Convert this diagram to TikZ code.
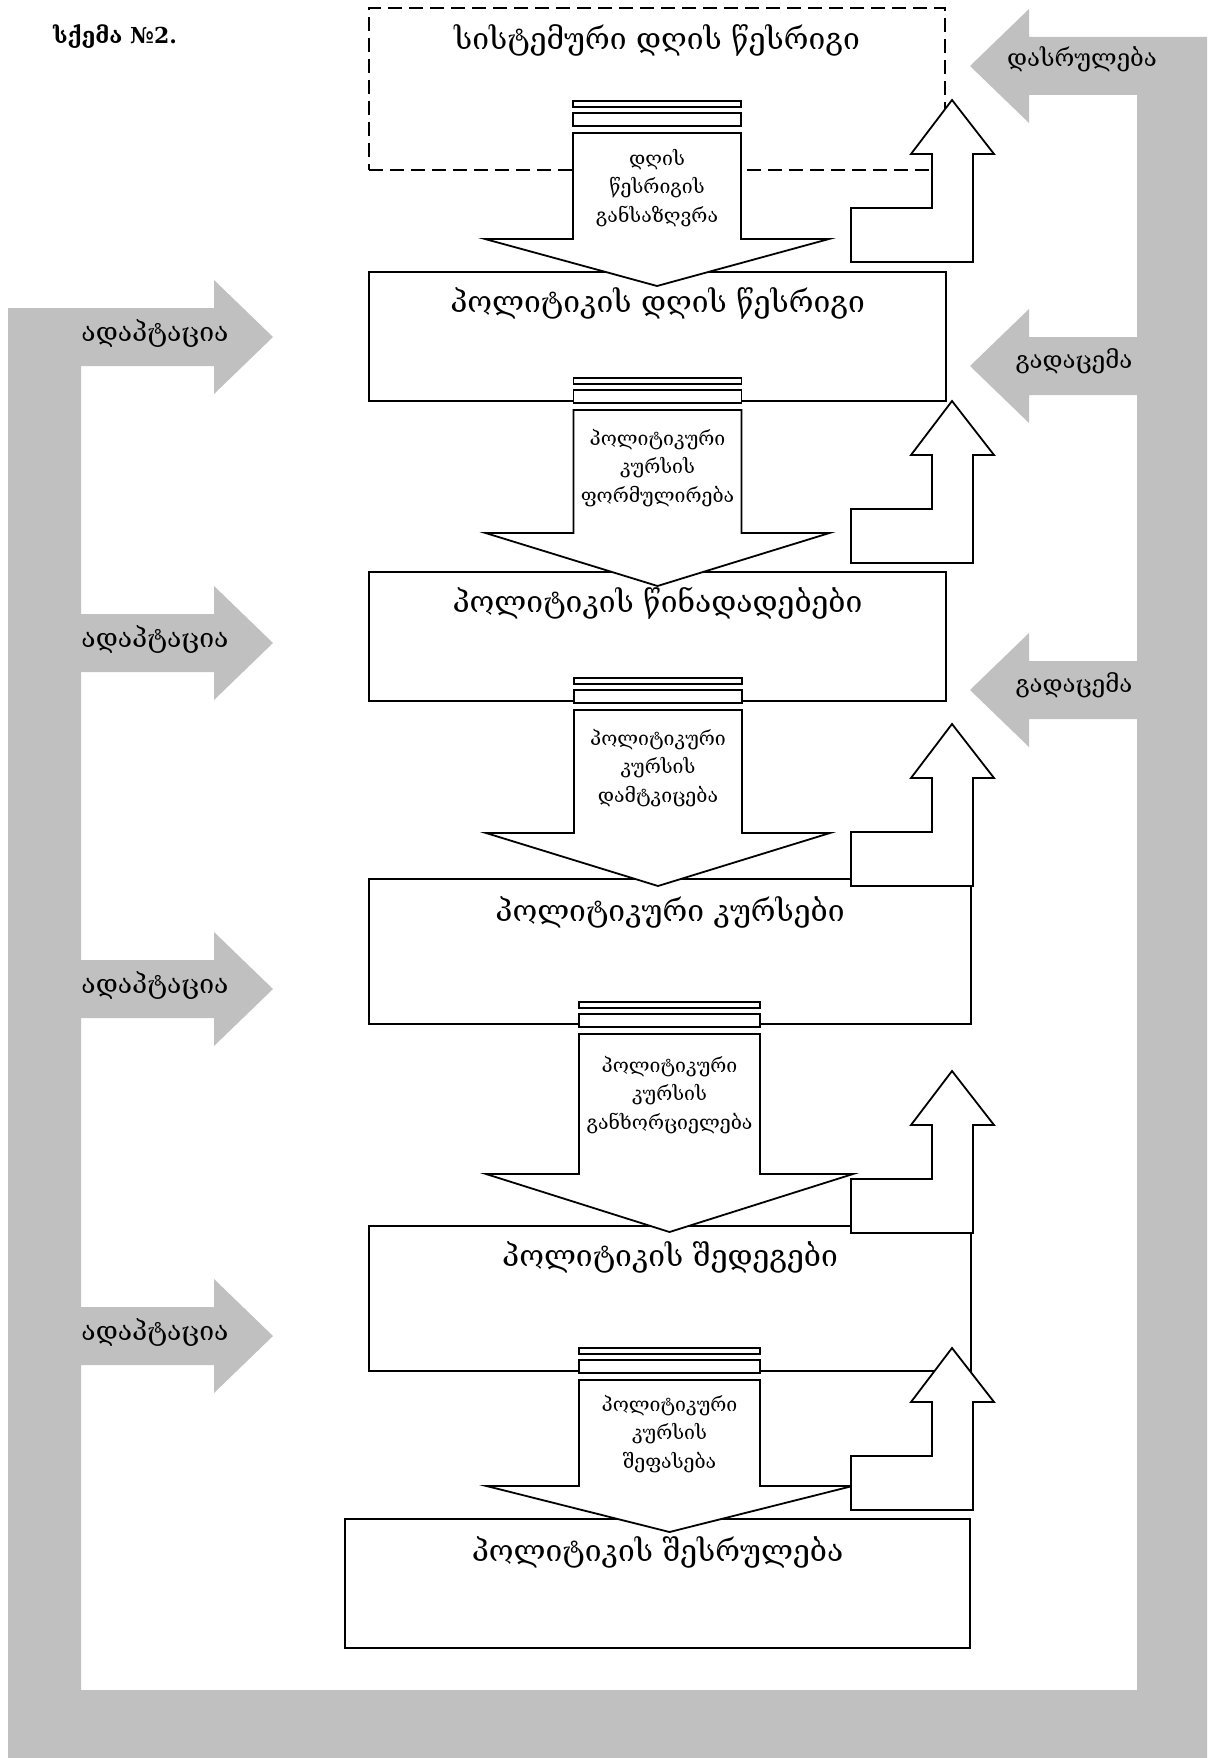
\documentclass[tikz,border=0pt]{standalone}
\usepackage{fontspec}
\setmainfont{DejaVu Serif}
\definecolor{bandgrey}{RGB}{192,192,192}
\tikzset{
  box/.style={draw,line width=1.5pt,fill=white,inner sep=0pt},
  blockline/.style={draw,line width=1.8pt,fill=white,line join=miter},
  boxtitle/.style={font=\fontsize{30}{33}\selectfont},
  steplabel/.style={font=\fontsize{19.5}{28.5}\selectfont,align=center},
  bandlabel/.style={font=\fontsize{24}{26}\selectfont},
  adaptlabel/.style={font=\fontsize{26.5}{28}\selectfont},
}
\begin{document}
\begin{tikzpicture}[x=1pt,y=-1pt]
  \useasboundingbox (0,0) rectangle (1207,1758);

  % grey feedback bands
  \fill[bandgrey] (8,308) rectangle (81,1758) (8,1690) rectangle (1207,1758) (1137,37) rectangle (1207,1758);
  \foreach \c in {337,643,989,1336}
    \fill[bandgrey] (81,\c-29) -- (214,\c-29) -- (214,\c-57) -- (273,\c) -- (214,\c+57) -- (214,\c+29) -- (81,\c+29) -- cycle;
  \foreach \c in {66,366,690}
    \fill[bandgrey] (1137,\c-29) -- (1029,\c-29) -- (1029,\c-57) -- (970,\c) -- (1029,\c+57) -- (1029,\c+29) -- (1137,\c+29) -- cycle;

  \node[font=\fontsize{22}{24}\selectfont\bfseries] (scheme) at (115,37) {სქემა №2.};

  % stages
  \node[box,dashed,dash pattern=on 14pt off 7pt,minimum width=576,minimum height=162] (sysAgenda) at (657,89) {};
  \node[box,minimum width=577,minimum height=129] (polAgenda)   at (657.5,336.5) {};
  \node[box,minimum width=577,minimum height=129] (proposals)   at (657.5,636.5) {};
  \node[box,minimum width=602,minimum height=145] (courses)     at (670,951.5)   {};
  \node[box,minimum width=602,minimum height=145] (results)     at (670,1298.5)  {};
  \node[box,minimum width=625,minimum height=129] (performance) at (657.5,1583.5) {};

  \node[boxtitle] (sysAgendaT)   at (657,40)    {სისტემური დღის წესრიგი};
  \node[boxtitle] (polAgendaT)   at (657.5,303) {პოლიტიკის დღის წესრიგი};
  \node[boxtitle] (proposalsT)   at (657.5,603) {პოლიტიკის წინადადებები};
  \node[boxtitle] (coursesT)     at (670,912)   {პოლიტიკური კურსები};
  \node[boxtitle] (resultsT)     at (670,1257)  {პოლიტიკის შედეგები};
  \node[boxtitle] (performanceT) at (657.5,1552) {პოლიტიკის შესრულება};

  % down arrows: centre / half width / half head / bars top / head base / tip
  \foreach \xc/\w/\hw/\ya/\yb/\yc in {657/84/172/101/239/286, 657.5/84/172/378/533/586,
      658/84/172/678/833/886, 669.5/90.5/183.5/1002/1174/1232, 669.5/90.5/183/1348/1486/1532} {
    \draw[blockline] (\xc-\w,\ya) rectangle (\xc+\w,\ya+6);
    \draw[blockline] (\xc-\w,\ya+12) rectangle (\xc+\w,\ya+25);
    \draw[blockline] (\xc-\w,\ya+32) -- (\xc-\w,\yb) -- (\xc-\hw,\yb) -- (\xc,\yc)
      -- (\xc+\hw,\yb) -- (\xc+\w,\yb) -- (\xc+\w,\ya+32) -- cycle;
  }

  \node[steplabel] (lblDefine)    at (657,188)    {დღის\\წესრიგის\\განსაზღვრა};
  \node[steplabel] (lblFormulate) at (657.5,468) {პოლიტიკური\\კურსის\\ფორმულირება};
  \node[steplabel] (lblApprove)   at (658,768)    {პოლიტიკური\\კურსის\\დამტკიცება};
  \node[steplabel] (lblImplement) at (669.5,1095) {პოლიტიკური\\კურსის\\განხორციელება};
  \node[steplabel] (lblEvaluate)  at (669.5,1434) {პოლიტიკური\\კურსის\\შეფასება};

  % up arrows
  \foreach \ty in {100,401,724,1071,1348}
    \draw[blockline] (952,\ty) -- ++(42,54) -- ++(-21,0) -- ++(0,108) -- ++(-122,0)
      -- ++(0,-54) -- ++(81,0) -- ++(0,-54) -- ++(-21,0) -- cycle;

  \node[adaptlabel] (adapt1) at (155,333)  {ადაპტაცია};
  \node[adaptlabel] (adapt2) at (155,639)  {ადაპტაცია};
  \node[adaptlabel] (adapt3) at (155,985)  {ადაპტაცია};
  \node[adaptlabel] (adapt4) at (155,1332) {ადაპტაცია};
  \node[bandlabel] (finish)  at (1082,59)  {დასრულება};
  \node[bandlabel] (pass1)   at (1074,361) {გადაცემა};
  \node[bandlabel] (pass2)   at (1074,685) {გადაცემა};
\end{tikzpicture}
\end{document}
